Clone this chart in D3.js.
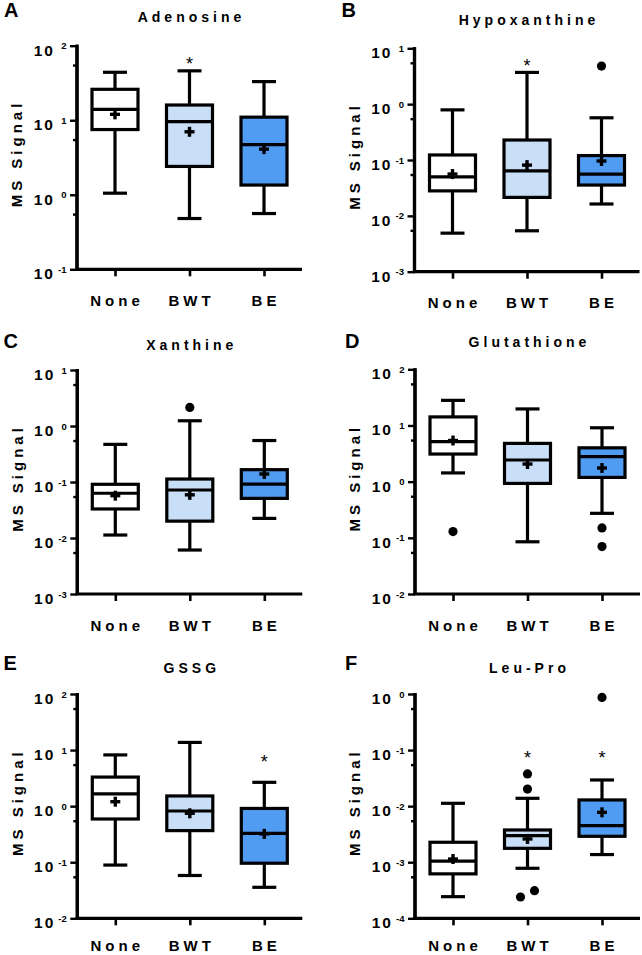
<!DOCTYPE html>
<html>
<head>
<meta charset="utf-8">
<script src="https://cdn.jsdelivr.net/npm/d3@7/dist/d3.min.js"></script>
<style>
html,body{margin:0;padding:0;background:#fff;}
svg{display:block;}
text{font-family:"Liberation Sans",Arial,Helvetica,sans-serif;}
</style>
</head>
<body>
<svg id="chart" width="642" height="955"></svg>
<script>
// ---------- DATA ----------
const panelTitles = ["Adenosine","Hypoxanthine","Xanthine","Glutathione","GSSG","Leu-Pro"];
const panelLetters = ["A","B","C","D","E","F"];
const groups = ["None","BWT","BE"];
const yMin = [1e-1, 1e-3, 1e-3, 1e-2, 1e-2, 1e-4];
const yMax = [1e2, 1e1, 1e1, 1e2, 1e2, 1e0];
const whiskerLow = [[1.05,0.48,0.56],[0.0049,0.0054,0.0163],[0.0113,0.0061,0.0224],[1.43,0.085,0.273],[0.089,0.058,0.0357],[0.000243,0.00078,0.00137]];
const q1 = [[7.5,2.4,1.35],[0.028,0.0214,0.0356],[0.033,0.020,0.051],[3.1,0.93,1.19],[0.59,0.366,0.096],[0.00062,0.00177,0.0029]];
const median = [[14,9.6,4.7],[0.050,0.064,0.056],[0.063,0.072,0.092],[5.15,2.43,2.79],[1.65,0.82,0.328],[0.00105,0.00298,0.00449]];
const q3 = [[26,16,11],[0.123,0.228,0.12],[0.091,0.113,0.166],[14.2,4.8,4.0],[3.3,1.52,0.91],[0.00227,0.00376,0.0129]];
const whiskerHigh = [[44,46,33],[0.79,3.7,0.57],[0.47,1.24,0.55],[28,19.7,9.1],[8.2,13.7,2.66],[0.01124,0.0138,0.0293]];
const means = [[12,7.0,4.1],[0.056,0.081,0.096],[0.057,0.059,0.139],[5.4,2.06,1.75],[1.2,0.745,0.32],[0.00114,0.0026,0.00776]];
const outliers = [[[],[],[]],[[],[],[4.8]],[[],[2.15],[]],[[0.129],[],[0.15,0.070]],[[],[],[]],[[],[0.0375,0.0202,0.00024,0.000311],[0.87]]];
const stars = [[null,64,null],[null,5.8,null],[null,null,null],[null,null,null],[null,null,7.1],[null,0.085,0.085]];
const minorFactor = 0.55;

// ---------- LAYOUT / STYLE ----------
const layout = [
  {x:77,    top:45.7,  bottom:269.3, titleY:21.7,  letterX:4,     letterY:16.7},
  {x:414.5, top:48.3,  bottom:271.7, titleY:25,    letterX:341.5, letterY:16.7},
  {x:77.3,  top:370,   bottom:594,   titleY:350,   letterX:3.5,   letterY:348},
  {x:415,   top:369.3, bottom:594,   titleY:346.7, letterX:345,   letterY:348},
  {x:77.3,  top:694,   bottom:918.3, titleY:673.3, letterX:3.5,   letterY:670},
  {x:415,   top:694,   bottom:918.3, titleY:673,   letterX:345,   letterY:670}
];
const plotWidth = 225;
const fills = ["#ffffff","#c9def7","#4f9cf2"];
const boxW = 46, capW = 24, lw = 3.2, plusSize = 10, dotR = 4.6;

const svg = d3.select("#chart");

panelTitles.forEach((title, p) => {
  const L = layout[p];
  const g = svg.append("g");
  const x = d3.scalePoint().domain(groups).range([L.x, L.x + plotWidth]).padding(0.51);
  const y = d3.scaleLog().domain([yMin[p], yMax[p]]).range([L.bottom, L.top]);

  // panel letter
  g.append("text").attr("x", L.letterX).attr("y", L.letterY)
    .attr("font-size", 20).attr("font-weight", "bold").text(panelLetters[p]);
  // title
  g.append("text").attr("x", L.x + plotWidth/2 + 2).attr("y", L.titleY)
    .attr("text-anchor", "middle").attr("font-size", 14).attr("font-weight", "bold")
    .attr("letter-spacing", 4).text(title);
  // y-axis title
  g.append("text")
    .attr("transform", `translate(${L.x - 60},${(L.top + L.bottom)/2 - 2}) rotate(-90)`)
    .attr("text-anchor", "middle").attr("dy", "0.36em").attr("dx", 2)
    .attr("font-size", 15).attr("font-weight", "bold").attr("letter-spacing", 4)
    .text("MS Signal");

  // y axis
  const lo = Math.round(Math.log10(yMin[p])), hi = Math.round(Math.log10(yMax[p]));
  const majors = d3.range(lo, hi + 1).map(e => Math.pow(10, e));
  const minors = d3.range(lo + 1, hi + 1).map(e => Math.pow(10, e) * minorFactor);
  const yAxis = d3.axisLeft(y).tickValues(majors).tickSize(7).tickFormat("");
  const ya = g.append("g").attr("transform", `translate(${L.x},0)`).call(yAxis);
  const yMinor = d3.axisLeft(y).tickValues(minors).tickSize(4).tickFormat("");
  const ym = g.append("g").attr("transform", `translate(${L.x},0)`).call(yMinor);
  [ya, ym].forEach(a => {
    a.select(".domain").attr("stroke", "#000").attr("stroke-width", lw).attr("d", `M0,${L.bottom}V${L.top - 1}`);
    a.selectAll(".tick line").attr("stroke", "#000").attr("stroke-width", 2.4);
  });
  // major tick labels: 10 with superscript exponent
  majors.forEach(v => {
    const e = Math.round(Math.log10(v));
    const ty = y(v);
    g.append("text").attr("x", L.x - 22).attr("y", ty + 10)
      .attr("text-anchor", "end").attr("font-size", 15.5).attr("font-weight", "bold")
      .attr("letter-spacing", 2).text("10");
    g.append("text").attr("x", L.x - 10.5).attr("y", ty + 3.5)
      .attr("text-anchor", "end").attr("font-size", 9.5).attr("font-weight", "bold")
      .text(String(e));
  });

  // x axis
  const xAxis = d3.axisBottom(x).tickSize(7).tickFormat("");
  const xa = g.append("g").attr("transform", `translate(0,${L.bottom})`).call(xAxis);
  xa.select(".domain").attr("stroke", "#000").attr("stroke-width", lw)
    .attr("d", `M${L.x - lw/2},0H${L.x + plotWidth}`);
  xa.selectAll(".tick line").attr("stroke", "#000").attr("stroke-width", 2.6);
  groups.forEach(gr => {
    g.append("text").attr("x", x(gr) + 2).attr("y", Math.min(L.bottom + 36.5, 951))
      .attr("text-anchor", "middle").attr("font-size", 15).attr("font-weight", "bold")
      .attr("letter-spacing", 4).text(gr);
  });

  // boxes
  groups.forEach((gr, i) => {
    const cx = x(gr);
    const line = (x1, y1, x2, y2) => g.append("line").attr("x1", x1).attr("y1", y1).attr("x2", x2).attr("y2", y2)
      .attr("stroke", "#000").attr("stroke-width", lw);
    // whiskers
    line(cx, y(q3[p][i]), cx, y(whiskerHigh[p][i]));
    line(cx - capW/2, y(whiskerHigh[p][i]), cx + capW/2, y(whiskerHigh[p][i]));
    line(cx, y(q1[p][i]), cx, y(whiskerLow[p][i]));
    line(cx - capW/2, y(whiskerLow[p][i]), cx + capW/2, y(whiskerLow[p][i]));
    // box
    g.append("rect").attr("x", cx - boxW/2).attr("y", y(q3[p][i]))
      .attr("width", boxW).attr("height", y(q1[p][i]) - y(q3[p][i]))
      .attr("fill", fills[i]).attr("stroke", "#000").attr("stroke-width", lw);
    // median
    line(cx - boxW/2, y(median[p][i]), cx + boxW/2, y(median[p][i]));
    // mean plus
    const my = y(means[p][i]);
    line(cx - plusSize/2, my, cx + plusSize/2, my).attr("stroke-width", 3.4);
    line(cx, my - plusSize/2, cx, my + plusSize/2).attr("stroke-width", 3.4);
    // outliers with simple dodge
    const ys = outliers[p][i].map(v => y(v));
    ys.forEach((oy, k) => {
      let dx = 0;
      ys.forEach((oy2, k2) => {
        if (k2 !== k && Math.abs(oy2 - oy) < 10) dx = (oy > oy2) ? -7 : 7;
      });
      g.append("circle").attr("cx", cx + dx).attr("cy", oy).attr("r", dotR).attr("fill", "#000");
    });
    // significance star
    if (stars[p][i] !== null) {
      g.append("text").attr("x", cx).attr("y", y(stars[p][i]) + 10)
        .attr("text-anchor", "middle").attr("font-size", 18).text("*");
    }
  });
});
</script>
</body>
</html>
